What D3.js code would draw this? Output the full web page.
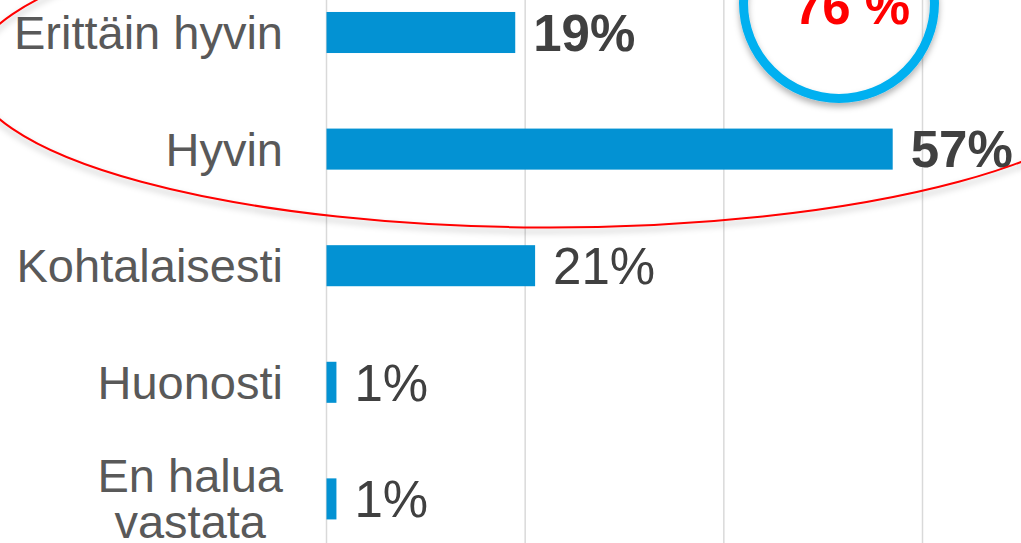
<!DOCTYPE html>
<html>
<head>
<meta charset="utf-8">
<script src="https://cdn.jsdelivr.net/npm/d3@7"></script>
<style>
  html, body { margin: 0; padding: 0; background: #fff; overflow: hidden; }
  svg { display: block; }
</style>
</head>
<body>
<div id="chart"></div>
<script>
// Data
const categories = ["Erittäin hyvin", "Hyvin", "Kohtalaisesti", "Huonosti", "En halua vastata"];
const values = [19, 57, 21, 1, 1];
const boldLabels = ["Erittäin hyvin", "Hyvin"];
const gridTicks = [0, 20, 40, 60];
const totalLabel = "76 %";

const W = 1021, H = 543;

const svg = d3.select("#chart")
    .append("svg")
    .attr("width", W)
    .attr("height", H);

const defs = svg.append("defs");
defs.append("filter")
    .attr("id", "shadow")
    .attr("x", "-20%").attr("y", "-20%")
    .attr("width", "140%").attr("height", "160%")
  .append("feDropShadow")
    .attr("dx", 0)
    .attr("dy", 4)
    .attr("stdDeviation", 3)
    .attr("flood-color", "#000")
    .attr("flood-opacity", 0.3);

// Skala
const x = d3.scaleLinear()
    .domain([0, 60])
    .range([326.5, 922.5]);

const y = d3.scaleBand()
    .domain(categories)
    .range([-25.8, 557.2])
    .paddingInner(0.648)
    .paddingOuter(0.324);

// Gridlines
svg.append("g")
    .selectAll("line")
    .data(gridTicks)
    .join("line")
    .attr("x1", d => x(d))
    .attr("x2", d => x(d))
    .attr("y1", 0)
    .attr("y2", H)
    .attr("stroke", "#d9d9d9")
    .attr("stroke-width", 1.5);

// Bars
svg.append("g")
    .selectAll("rect")
    .data(categories)
    .join("rect")
    .attr("x", x(0))
    .attr("y", d => y(d))
    .attr("width", (d, i) => x(values[i]) - x(0))
    .attr("height", y.bandwidth())
    .attr("fill", "#0392d3");

// Value labels
svg.append("g")
    .selectAll("text")
    .data(categories)
    .join("text")
    .attr("x", (d, i) => x(values[i]) + 18)
    .attr("y", d => y(d) + y.bandwidth() / 2)
    .attr("dy", "0.36em")
    .style("font-family", "'Liberation Sans', Arial, sans-serif")
    .style("font-size", "51px")
    .style("font-weight", d => boldLabels.includes(d) ? "bold" : "normal")
    .attr("fill", "#404040")
    .text((d, i) => values[i] + "%");

// Category labels (long one wraps, lines centred on each other)
const labelRight = 283;
const catLabels = svg.append("g")
    .selectAll("text")
    .data(categories)
    .join("text")
    .attr("y", d => y(d) + y.bandwidth() / 2)
    .style("font-family", "'Liberation Sans', Arial, sans-serif")
    .style("font-size", "47px")
    .attr("fill", "#595959");

catLabels.each(function(d) {
    const el = d3.select(this);
    const lines = d === "En halua vastata" ? ["En halua", "vastata"] : [d];
    const lh = 46;
    const spans = lines.map((t, i) => el.append("tspan")
        .attr("dy", i === 0 ? (16.5 - (lines.length - 1) * lh / 2) + "px" : lh + "px")
        .text(t));
    if (lines.length === 1) {
        el.attr("text-anchor", "end");
        spans[0].attr("x", labelRight);
    } else {
        const widest = d3.max(spans, s => s.node().getComputedTextLength());
        el.attr("text-anchor", "middle");
        spans.forEach(s => s.attr("x", labelRight - widest / 2));
    }
});

// Total circle
svg.append("circle")
    .attr("cx", 839)
    .attr("cy", 3)
    .attr("r", 95.5)
    .attr("fill", "none")
    .attr("stroke", "#00b0f0")
    .attr("stroke-width", 9)
    .attr("filter", "url(#shadow)");

svg.append("text")
    .attr("x", 852)
    .attr("y", 24)
    .attr("text-anchor", "middle")
    .style("font-family", "'Liberation Sans', Arial, sans-serif")
    .style("font-size", "51px")
    .style("font-weight", "bold")
    .attr("fill", "#ff0000")
    .text(totalLabel);

// Red ellipse round the top two
svg.append("ellipse")
    .attr("cx", 550)
    .attr("cy", 71.5)
    .attr("rx", 578)
    .attr("ry", 156)
    .attr("fill", "none")
    .attr("stroke", "#ff0000")
    .attr("stroke-width", 2)
    .attr("filter", "url(#shadow)");
</script>
</body>
</html>
